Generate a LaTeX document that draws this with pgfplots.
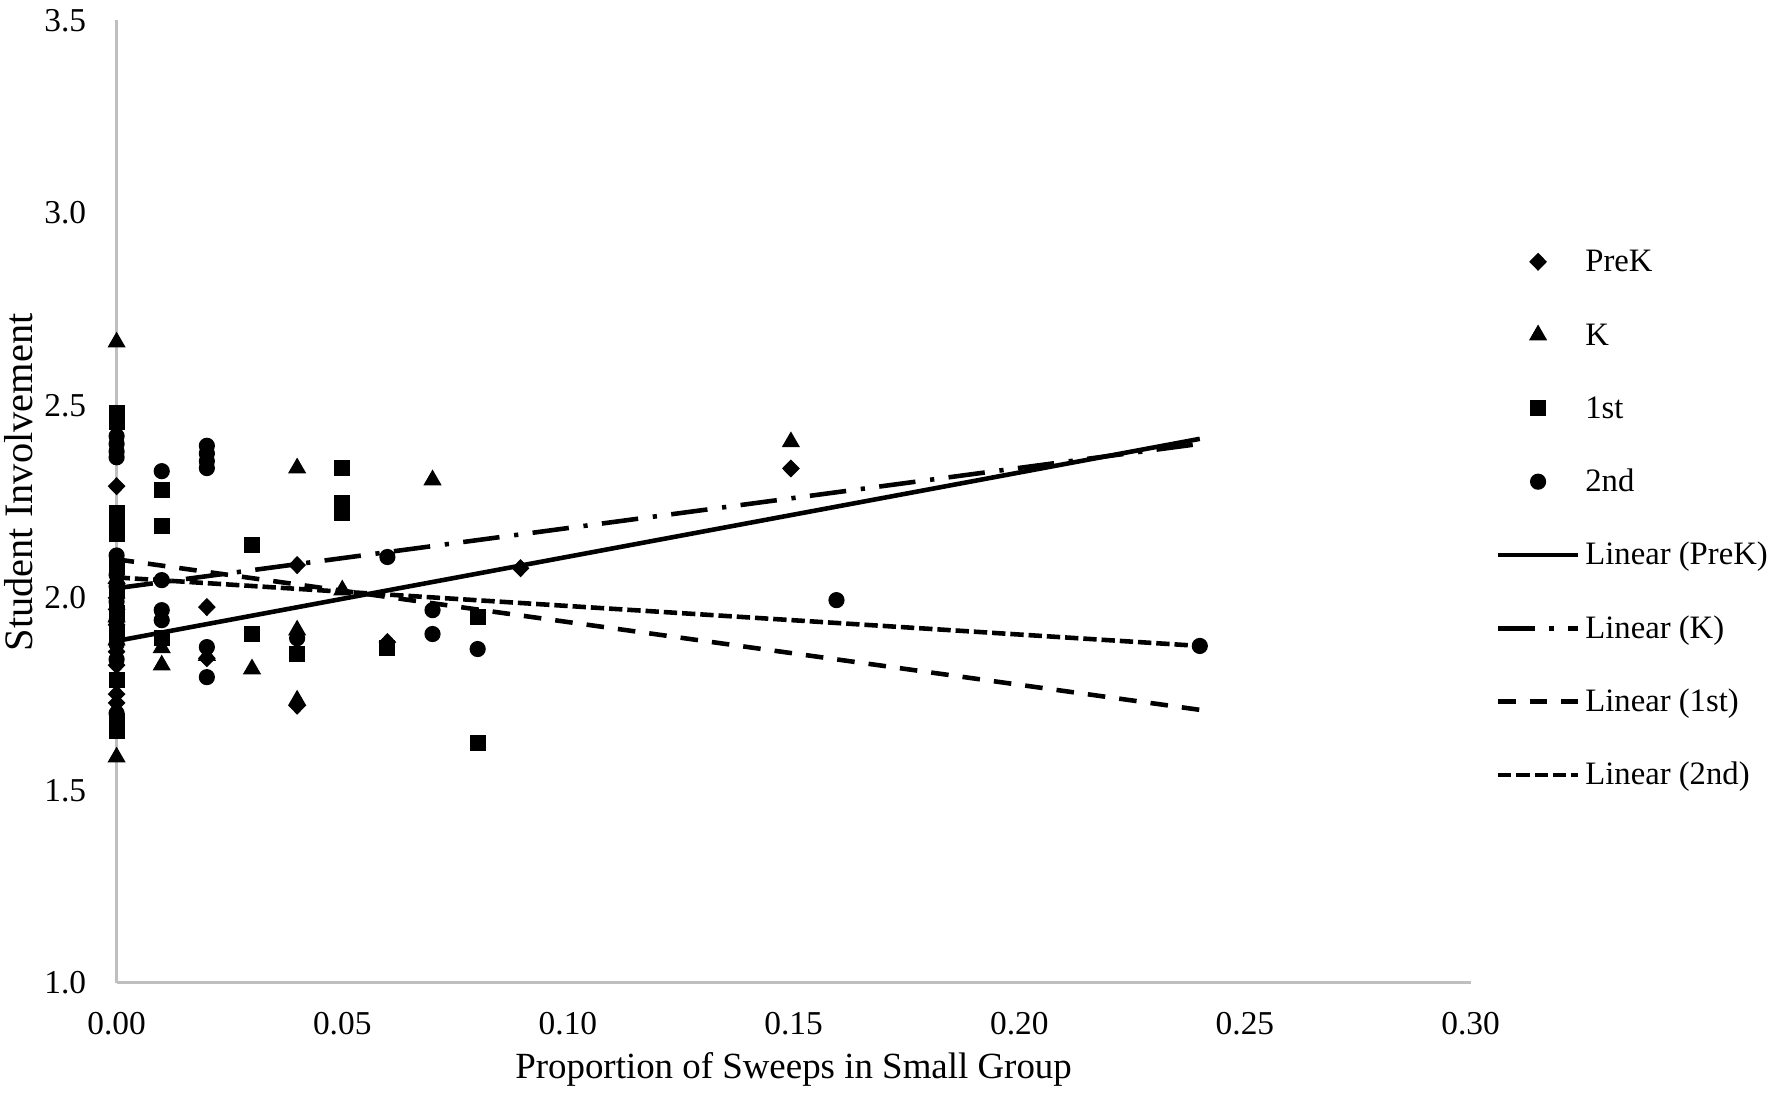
\documentclass[border=0pt]{standalone}
\usepackage{fontspec}
\setmainfont{Liberation Serif}
\usepackage{pgfplots}
\pgfplotsset{compat=1.18}
\begin{document}
\begin{tikzpicture}[x=1cm,y=1cm]
\useasboundingbox (-1.166,-1.122) rectangle (16.554,9.828);
\begin{axis}[
  at={(0,0)}, anchor=south west,
  width=13.54cm, height=9.624cm, scale only axis,
  xmin=0, xmax=0.30, ymin=1.0, ymax=3.5,
  xtick={0,0.05,0.10,0.15,0.20,0.25,0.30},
  ytick={1.0,1.5,2.0,2.5,3.0,3.5},
  axis x line=bottom, axis y line=left,
  axis line style={draw=black!25, line width=0.9pt, -},
  major tick length=0pt,
  tick label style={font=\fontsize{9.5}{11}\selectfont},
  xticklabel style={/pgf/number format/fixed, /pgf/number format/fixed zerofill, /pgf/number format/precision=2, /pgf/number format/assume math mode=true, yshift=-0.17cm},
  yticklabel style={/pgf/number format/fixed, /pgf/number format/fixed zerofill, /pgf/number format/precision=1, /pgf/number format/assume math mode=true, xshift=-0.18cm},
  xlabel={Proportion of Sweeps in Small Group},
  ylabel={Student Involvement},
  xlabel style={font=\fontsize{10.5}{12}\selectfont, at={(axis description cs:0.5,-0.0905)}, anchor=center},
  ylabel style={font=\fontsize{11.5}{13}\selectfont, at={(axis description cs:-0.0721,0.52)}, anchor=center},
  clip=false,
  legend cell align=left,
  legend style={draw=none, fill=none, at={(axis description cs:1.0103,0.778)}, anchor=north west,
    font=\fontsize{9.3}{11}\selectfont, row sep=0.333cm, column sep=0.05cm,
    nodes={inner sep=0pt, text height=0.3cm, text depth=0.1cm}},
  legend image code/.code={\draw[mark repeat=2,mark phase=2,#1] plot coordinates {(0cm,0cm) (0.4cm,0cm) (0.8cm,0cm)};},
]
% PreK
\addplot[only marks, mark=diamond*, mark size=2.3pt, mark options={xscale=1.3}, black] coordinates {
(0,2.29) (0,2.00) (0,1.97) (0,1.93) (0,1.86) (0,1.825) (0,1.75) (0,1.727)
(0.02,1.976) (0.02,1.843) (0.04,2.085) (0.04,1.72) (0.06,1.885) (0.0895,2.077) (0.1494,2.336)
};
\addlegendentry{PreK}
% K
\addplot[only marks, mark=triangle*, mark size=2.6pt, black] coordinates {
(0,2.664) (0,2.05) (0,1.95) (0,1.89) (0,1.586) (0.01,1.87) (0.01,1.825) (0.02,1.85)
(0.03,1.815) (0.04,2.337) (0.04,1.916) (0.04,1.734) (0.05,2.02) (0.07,2.306) (0.1494,2.405)
};
\addlegendentry{K}
% 1st
\addplot[only marks, mark=square*, mark size=2.1pt, black] coordinates {
(0,2.48) (0,2.457) (0,2.22) (0,2.19) (0,2.165) (0,2.08) (0,2.02) (0,1.96) (0,1.91) (0,1.786) (0,1.68) (0,1.655)
(0.01,2.28) (0.01,2.186) (0.01,1.895) (0.03,2.137) (0.03,1.906) (0.04,1.854) (0.05,2.337) (0.05,2.245) (0.05,2.22)
(0.06,1.87) (0.08,1.95) (0.08,1.623)
};
\addlegendentry{1st}
% 2nd
\addplot[only marks, mark=*, mark size=2.1pt, black] coordinates {
(0,2.42) (0,2.40) (0,2.38) (0,2.365) (0,2.11) (0,2.06) (0,2.03) (0,1.99) (0,1.94) (0,1.88) (0,1.84) (0,1.70)
(0.01,2.329) (0.01,2.046) (0.01,1.968) (0.01,1.942) (0.02,2.395) (0.02,2.375) (0.02,2.355) (0.02,2.337)
(0.02,1.872) (0.02,1.794) (0.04,1.895) (0.06,2.106) (0.07,1.968) (0.07,1.906) (0.08,1.867) (0.1595,1.994) (0.24,1.875)
};
\addlegendentry{2nd}
% trend lines
\addplot[black, line width=1.3pt, no marks] coordinates {(0,1.888) (0.24,2.413)};
\addlegendentry{Linear (PreK)}
\addplot[black, line width=1.3pt, no marks, dash pattern=on 10.4pt off 4.2pt on 1.2pt off 4.1pt] coordinates {(0,2.025) (0.24,2.40)};
\addlegendentry{Linear (K)}
\addplot[black, line width=1.3pt, no marks, dash pattern=on 5pt off 4pt] coordinates {(0,2.10) (0.24,1.709)};
\addlegendentry{Linear (1st)}
\addplot[black, line width=1.3pt, no marks, dash pattern=on 3.8pt off 1.4pt] coordinates {(0,2.053) (0.24,1.875)};
\addlegendentry{Linear (2nd)}
\end{axis}
\end{tikzpicture}
\end{document}
